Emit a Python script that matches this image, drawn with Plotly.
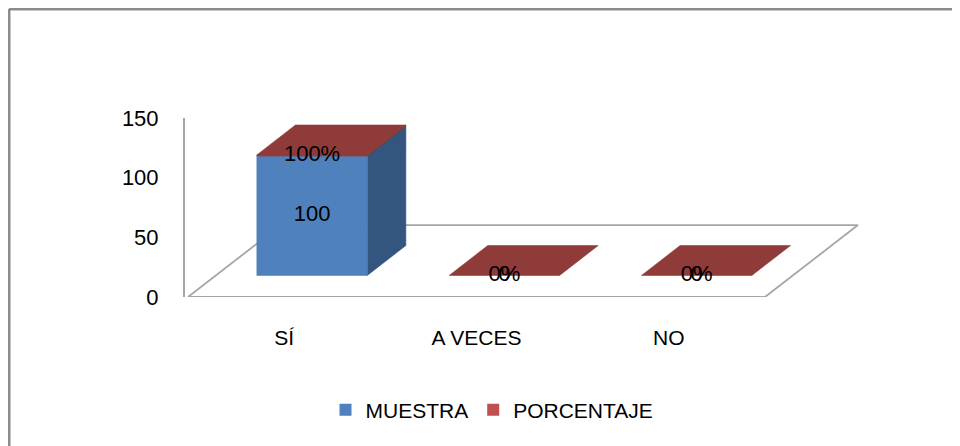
import plotly.graph_objects as go

# ---- data ----
categories = ["SÍ", "A VECES", "NO"]
muestra = [100, 0, 0]
porcentaje = [1.0, 0.0, 0.0]          # 100%, 0%, 0%
y_ticks = [0, 50, 100, 150]
series_names = ["MUESTRA", "PORCENTAJE"]

# ---- style / layout constants ----
OFF = 8                    # page body margin of the html page
W, H = 960 - OFF, 446 - OFF
ML, MR, MT, MB = 185 - OFF, 90, 118 - OFF, 149
X_MIN, X_MAX = -0.0156, 3.546
Y_MIN, Y_MAX = 0, 150
DX, DY = 0.4835, 60.3      # projected full floor depth (category units, value units)
D0, D1 = 0.30, 0.715       # depth slice occupied by bars
HALF = 0.287               # half bar width (category units)
FONT = "Liberation Sans, Arial, sans-serif"

BLUE_FRONT = "#4F81BD"
BLUE_SIDE = "#34557E"
RED_FRONT = "#9A3D3B"
RED_SIDE = "#6E2B2A"
RED_TOP = "#8F3B39"
LEG_BLUE = "#4F81BD"
LEG_RED = "#C0504D"
GRID_GRAY = "#A6A6A6"


def proj(x, y, d):
    return x + d * DX, y + d * DY


def poly(pts, fill, line_color=None, line_width=0.6):
    xs = [p[0] for p in pts] + [pts[0][0]]
    ys = [p[1] for p in pts] + [pts[0][1]]
    return go.Scatter(x=xs, y=ys, mode="lines", fill="toself", fillcolor=fill,
                      line=dict(color=line_color or fill, width=line_width),
                      hoverinfo="skip", showlegend=False)


fig = go.Figure()

# floor
n = len(categories)
fig.add_trace(poly([proj(0, 0, 0), proj(n, 0, 0), proj(n, 0, 1), proj(0, 0, 1)],
                   "white", GRID_GRAY, 1.8))

label_x, label_y, label_t = [], [], []
for i, cat in enumerate(categories):
    x0, x1 = i + 0.5 - HALF, i + 0.5 + HALF
    m, p = muestra[i], porcentaje[i]
    segs = [(0, m, BLUE_FRONT, BLUE_SIDE), (m, m + p, RED_FRONT, RED_SIDE)]
    for lo, hi, fc, sc in segs:
        if hi - lo <= 0:
            continue
        fig.add_trace(poly([proj(x1, lo, D0), proj(x1, lo, D1), proj(x1, hi, D1), proj(x1, hi, D0)], sc))
        fig.add_trace(poly([proj(x0, lo, D0), proj(x1, lo, D0), proj(x1, hi, D0), proj(x0, hi, D0)], fc))
    top = m + p
    fig.add_trace(poly([proj(x0, top, D0), proj(x1, top, D0), proj(x1, top, D1), proj(x0, top, D1)], RED_TOP))

    lx, ly = proj(i + 0.5, m / 2, D0)
    label_x.append(lx); label_y.append(ly); label_t.append(f"{m:g}")
    lx, ly = proj(i + 0.5, m + p / 2, D0)
    label_x.append(lx); label_y.append(ly); label_t.append(f"{p:.0%}")

fig.add_trace(go.Scatter(x=label_x, y=label_y, text=label_t, mode="text",
                         textposition="middle center", cliponaxis=False,
                         textfont=dict(family=FONT, size=22, color="#000000"),
                         hoverinfo="skip", showlegend=False))

# legend entries
for name, col in zip(series_names, [LEG_BLUE, LEG_RED]):
    fig.add_trace(go.Scatter(x=[None], y=[None], mode="markers", name=name,
                             marker=dict(symbol="square", size=12, color=col)))

pw = W - ML - MR
ph = H - MT - MB
# outer chart frame: top and left edges only (right/bottom lie off-canvas)
fx0, fy0 = 9 - OFF, 9 - OFF
px = lambda v: (v - ML) / pw
py = lambda v: (H - MB - v) / ph
frame_line = dict(color="#8C8C8C", width=3)
fig.add_shape(type="line", xref="paper", yref="paper", x0=px(fx0), x1=px(W + 5),
              y0=py(fy0), y1=py(fy0), line=frame_line, layer="below")
fig.add_shape(type="line", xref="paper", yref="paper", x0=px(fx0), x1=px(fx0),
              y0=py(fy0), y1=py(H + 5), line=frame_line, layer="below")

fig.update_layout(
    width=W, height=H,
    margin=dict(l=ML, r=MR, t=MT, b=MB),
    paper_bgcolor="white", plot_bgcolor="rgba(0,0,0,0)",
    font=dict(family=FONT, size=21, color="#000000"),
    xaxis=dict(range=[X_MIN, X_MAX], tickvals=[i + 0.5 for i in range(n)], ticktext=categories,
               showgrid=False, zeroline=False, showline=False, ticks="",
               ticklabelstandoff=26, tickfont=dict(size=21), fixedrange=True),
    yaxis=dict(range=[Y_MIN, Y_MAX], tickvals=y_ticks, showgrid=False, zeroline=False,
               showline=True, linecolor=GRID_GRAY, linewidth=2, ticks="",
               ticklabelstandoff=20, tickfont=dict(size=22), fixedrange=True),
    legend=dict(orientation="h", xref="container", yref="container",
                x=(492 - OFF) / W, xanchor="center", y=1 - (410 - OFF) / H, yanchor="middle",
                font=dict(size=21), itemclick=False),
    showlegend=True,
)

fig.write_html("out.html", config={"displayModeBar": False},
               post_script="document.body.style.overflow='hidden';")
